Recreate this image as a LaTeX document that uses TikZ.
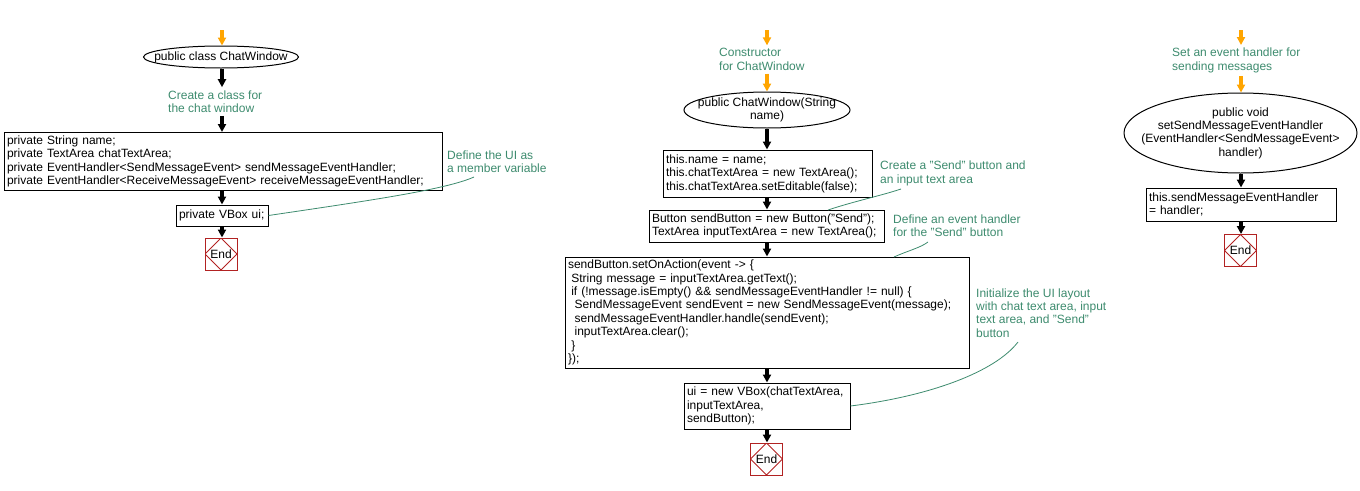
\documentclass[tikz,border=0pt]{standalone}
\usepackage{fontspec}
\setmainfont{Liberation Sans}
\usetikzlibrary{shapes.geometric,arrows.meta,calc}
\definecolor{cmtc}{RGB}{61,139,110}
\definecolor{orng}{RGB}{255,165,0}
\definecolor{endred}{RGB}{178,34,34}
\newcommand{\ind}{\hspace*{3.3pt}}
\begin{document}
\begin{tikzpicture}[x=1pt,y=-1pt,
  every node/.style={font=\fontsize{12}{13.4}\selectfont},
  box/.style={draw, line width=1pt, align=left, inner xsep=3pt, inner ysep=0pt},
  ell/.style={draw, ellipse, line width=1pt, align=center, inner xsep=-60pt, inner ysep=-40pt},
  cmt/.style={text=cmtc, align=left, inner xsep=0pt, inner ysep=3pt},
  endn/.style={draw=endred, line width=1pt, minimum width=32pt, minimum height=32pt, inner sep=0pt,
    path picture={\draw[endred, line width=0.8pt] (path picture bounding box.north) -- (path picture bounding box.east) -- (path picture bounding box.south) -- (path picture bounding box.west) -- cycle;}},
  flow/.style={line width=4pt, -{Triangle[length=8pt,width=8pt]}},
  oflow/.style={flow, draw=orng, fill=orng},
  cline/.style={draw=cmtc, line width=0.8pt}
]
\useasboundingbox (0,0) rectangle (1360,490);

% ---------- column 1 ----------
\coordinate (s1) at (222,30);
\node[ell, minimum width=155, minimum height=22] (e1) at (221,57) {public class ChatWindow};
\node[cmt, anchor=west] (c1) at (168,101.5) {Create a class for\\the chat window};
\node[box, text width=432, minimum height=58] (b1) at (223,161.5) {private String name;\\private TextArea chatTextArea;\\private EventHandler<SendMessageEvent> sendMessageEventHandler;\\private EventHandler<ReceiveMessageEvent> receiveMessageEventHandler;};
\node[box, text width=86, minimum height=21] (b2) at (222,215.5) {private VBox ui;};
\node[endn] (x1) at (221,254) {End};
\node[cmt, anchor=west] (m1) at (447,162) {Define the UI as\\a member variable};
\coordinate (m1e) at (474,177);

\draw[oflow] (s1) -- (s1 |- e1.north);
\draw[flow] (s1 |- e1.south) -- (s1 |- c1.north);
\draw[flow] (s1 |- c1.south) -- (s1 |- b1.north);
\draw[flow] (s1 |- b1.south) -- (s1 |- b2.north);
\draw[flow] (s1 |- b2.south) -- (s1 |- x1.north);
\draw[cline] (b2.east) .. controls (370,200.5) and (446,189.5) .. (m1e);

% ---------- column 2 ----------
\coordinate (s2) at (767,30);
\node[cmt, anchor=west] (c2) at (719,59.5) {Constructor\\for ChatWindow};
\node[ell, minimum width=166, minimum height=36] (e2) at (767,110) {public ChatWindow(String\\name)};
\node[box, text width=203, minimum height=47] (bA) at (767.5,173.5) {this.name = name;\\this.chatTextArea = new TextArea();\\this.chatTextArea.setEditable(false);};
\node[box, text width=229, minimum height=32] (bB) at (766.5,226) {Button sendButton = new Button("Send");\\TextArea inputTextArea = new TextArea();};
\node[box, text width=398, minimum height=111] (bC) at (767,312.5) {sendButton.setOnAction(event -> \{\\\ind String message = inputTextArea.getText();\\\ind if (!message.isEmpty() \&\& sendMessageEventHandler != null) \{\\\ind\ind SendMessageEvent sendEvent = new SendMessageEvent(message);\\\ind\ind sendMessageEventHandler.handle(sendEvent);\\\ind\ind inputTextArea.clear();\\\ind \}\\\});};
\node[box, text width=160, minimum height=46] (bD) at (767,406) {ui = new VBox(chatTextArea,\\inputTextArea,\\sendButton);};
\node[endn] (x2) at (766.5,459) {End};
\node[cmt, anchor=west] (m2) at (880,173.5) {Create a "Send" button and\\an input text area};
\node[cmt, anchor=west] (m3) at (893,226) {Define an event handler\\for the "Send" button};
\node[cmt, anchor=west] (m4) at (976,313) {Initialize the UI layout\\with chat text area, input\\text area, and "Send"\\button};
\coordinate (m2e) at (901,189);
\coordinate (m3e) at (928,242);
\coordinate (m4e) at (1018,342);
\coordinate (bBt) at (828,210);
\coordinate (bCt) at (894,257);

\draw[oflow] (s2) -- (s2 |- c2.north);
\draw[oflow] (s2 |- c2.south) -- (s2 |- e2.north);
\draw[flow] (s2 |- e2.south) -- (s2 |- bA.north);
\draw[flow] (s2 |- bA.south) -- (s2 |- bB.north);
\draw[flow] (s2 |- bB.south) -- (s2 |- bC.north);
\draw[flow] (s2 |- bC.south) -- (s2 |- bD.north);
\draw[flow] (s2 |- bD.south) -- (s2 |- x2.north);
\draw[cline] (bBt) .. controls (855,201) and (880,196) .. (m2e);
\draw[cline] (bCt) .. controls (907,251) and (920,248) .. (m3e);
\draw[cline] (bD.east) .. controls (930,396) and (995,372) .. (m4e);

% ---------- column 3 ----------
\coordinate (s3) at (1241,30);
\node[cmt, anchor=west] (c3) at (1172,60.5) {Set an event handler for\\sending messages};
\node[ell, minimum width=233, minimum height=80] (e3) at (1240.5,133) {public void\\setSendMessageEventHandler\\(EventHandler<SendMessageEvent>\\handler)};
\node[box, text width=184, minimum height=33] (b3) at (1241,204.5) {this.sendMessageEventHandler\\= handler;};
\node[endn] (x3) at (1240.5,250.5) {End};

\draw[oflow] (s3) -- (s3 |- c3.north);
\draw[oflow] (s3 |- c3.south) -- (s3 |- e3.north);
\draw[flow] (s3 |- e3.south) -- (s3 |- b3.north);
\draw[flow] (s3 |- b3.south) -- (s3 |- x3.north);
\end{tikzpicture}
\end{document}
